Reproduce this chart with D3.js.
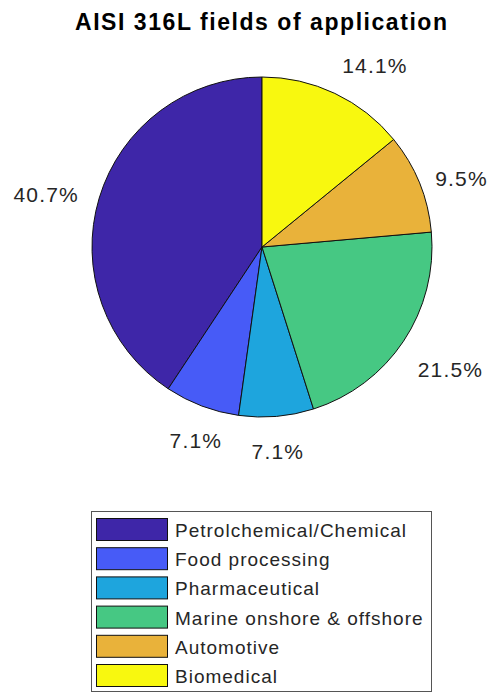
<!DOCTYPE html>
<html>
<head>
<meta charset="utf-8">
<script src="https://cdn.jsdelivr.net/npm/d3@7"></script>
<style>
  html, body { margin: 0; padding: 0; background: #fff; }
  svg { display: block; }
  text { font-family: "Liberation Sans", Arial, Helvetica, sans-serif; fill: #262626; }
</style>
</head>
<body>
<svg id="chart" width="493" height="693"></svg>
<script>
// ---- data ----
const title = "AISI 316L fields of application";
const categories = [
  "Petrolchemical/Chemical",
  "Food processing",
  "Pharmaceutical",
  "Marine onshore & offshore",
  "Automotive",
  "Biomedical"
];
const values = [40.7, 7.1, 7.1, 21.5, 9.5, 14.1];
const valueLabels = ["40.7%", "7.1%", "7.1%", "21.5%", "9.5%", "14.1%"];

// ---- style ----
const palette = ["#3e26a8", "#475bf7", "#1ea5dd", "#46c883", "#e9b23a", "#f8f80f"];

const W = 493, H = 693;
const cx = 262, cy = 247, R = 170;

const svg = d3.select("#chart");
svg.append("rect").attr("width", W).attr("height", H).attr("fill", "#fff");

// title
svg.append("text")
  .attr("x", 261).attr("y", 30)
  .attr("text-anchor", "middle")
  .attr("font-size", 23).attr("font-weight", "bold")
  .attr("textLength", 372).attr("lengthAdjust", "spacing")
  .style("fill", "#000")
  .text(title);

const color = d3.scaleOrdinal().domain(categories).range(palette);

// MATLAB pie: starts at 12 o'clock, counterclockwise
const pie = d3.pie().sort(null).startAngle(0).endAngle(-2 * Math.PI).value(d => d.value);
const data = pie(categories.map((c, i) => ({ cat: c, value: values[i], label: valueLabels[i] })));
const arc = d3.arc().innerRadius(0).outerRadius(R);

const g = svg.append("g").attr("transform", `translate(${cx},${cy})`);
g.selectAll("path.slice").data(data).join("path")
  .attr("class", "slice")
  .attr("d", arc)
  .attr("fill", d => color(d.data.cat))
  .attr("stroke", "#111")
  .attr("stroke-width", 1)
  .attr("stroke-linejoin", "round");

// labels
const labelR = R * 1.1;
g.selectAll("text.lbl").data(data).join("text")
  .attr("class", "lbl")
  .attr("font-size", 21)
  .style("letter-spacing", "1.2px")
  .each(function(d) {
    const a = (d.startAngle + d.endAngle) / 2;
    const dx = Math.sin(a), dy = -Math.cos(a);
    const ax = dx * labelR, ay = dy * labelR;
    let anchor = "middle";
    if (dx > 0.4) anchor = "start"; else if (dx < -0.4) anchor = "end";
    let by;
    if (dy > 0.5) by = ay + 26;       // below
    else if (dy < -0.5) by = ay - 5;  // above
    else by = ay + 9;                 // middle
    let x = ax;
    if (anchor === "end") x = ax - 4;
    d3.select(this)
      .attr("x", x).attr("y", by)
      .attr("text-anchor", anchor)
      .text(d.data.label);
  });

// legend
const lg = svg.append("g");
lg.append("rect")
  .attr("x", 91.5).attr("y", 511.5).attr("width", 340).attr("height", 180)
  .attr("fill", "#fff").attr("stroke", "#555").attr("stroke-width", 1);

const rowY = d3.scaleLinear().domain([0, 1]).range([518, 547.2]);
const rows = lg.selectAll("g.row").data(categories).join("g").attr("class", "row")
  .attr("transform", (d, i) => `translate(0,${rowY(i)})`);
rows.append("rect")
  .attr("x", 96.5).attr("y", 0.5).attr("width", 71).attr("height", 22)
  .attr("fill", d => color(d)).attr("stroke", "#111").attr("stroke-width", 1);
rows.append("text")
  .attr("x", 175).attr("y", 19)
  .attr("font-size", 19)
  .style("letter-spacing", "1px")
  .text(d => d);
</script>
</body>
</html>
